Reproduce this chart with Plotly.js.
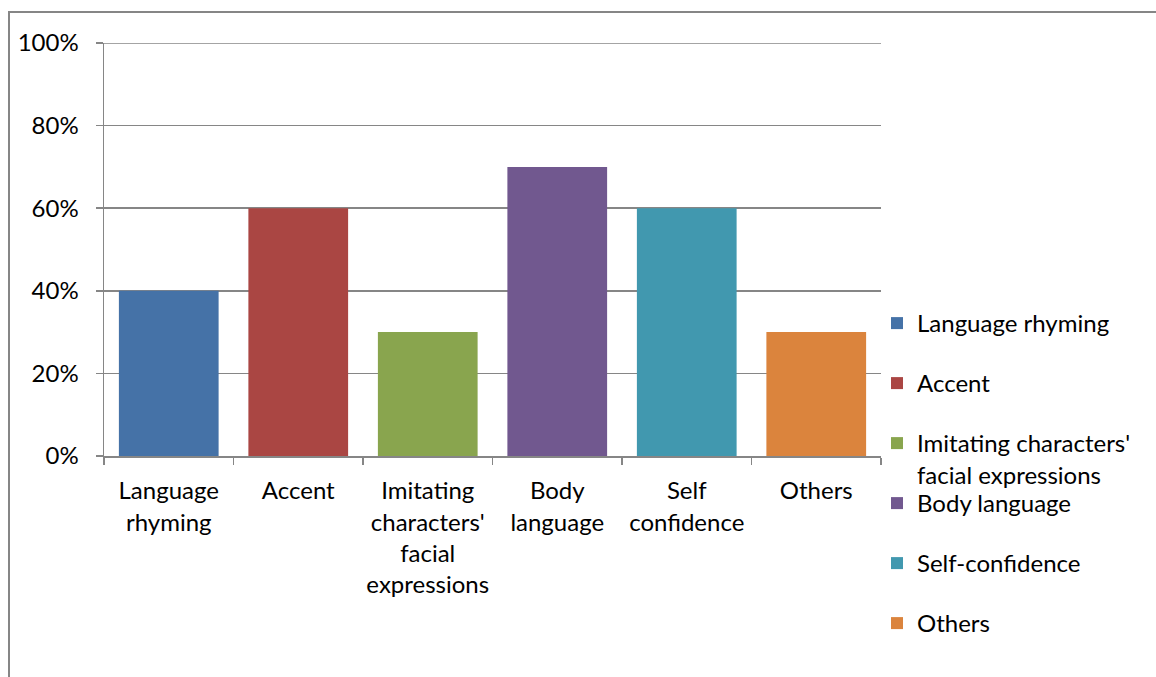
<!DOCTYPE html>
<html>
<head>
<meta charset="utf-8">
<script src="https://cdn.plot.ly/plotly-3.0.1.min.js"></script>
<style>html,body{margin:0;padding:0;background:#fff;}#chart{width:1156px;height:677px;}</style>
</head>
<body>
<div id="chart"></div>
<script>
const categories = ["Language<br>rhyming", "Accent", "Imitating<br>characters'<br>facial<br>expressions", "Body<br>language", "Self<br>confidence", "Others"];
const legendNames = ["Language rhyming", "Accent", "Imitating characters'<br>facial expressions", "Body language", "Self-confidence", "Others"];
const values = [0.40, 0.60, 0.30, 0.70, 0.60, 0.30];
const colors = ["#4572A7", "#AA4643", "#89A54E", "#71588F", "#4198AF", "#DB843D"];

const FONT = "Lato, 'Open Sans', sans-serif";
const FS = 24;
const legendY = [323, 383, 443, 503, 563, 623]; // pixel centre of first line
const plotTop = 43, plotH = 413, plotL = 104, plotW = 777;

const traces = categories.map((c, i) => ({
  type: 'bar',
  x: [c],
  y: [values[i]],
  name: legendNames[i],
  marker: {color: colors[i], line: {width: 0}},
  width: 0.77,
  legend: i === 0 ? 'legend' : 'legend' + (i + 1),
  hoverinfo: 'x+y'
}));

const layout = {
  width: 1156, height: 677,
  margin: {l: plotL, r: 1156 - plotL - plotW, t: plotTop, b: 677 - plotTop - plotH, pad: 0},
  paper_bgcolor: '#ffffff', plot_bgcolor: '#ffffff',
  font: {family: FONT, size: FS, color: '#000000'},
  barmode: 'overlay',
  showlegend: true,
  xaxis: {
    type: 'category',
    categoryorder: 'array', categoryarray: categories,
    showline: true, linecolor: '#868686', linewidth: 1.5,
    ticks: 'outside', ticklen: 7, tickcolor: '#868686', tickwidth: 1.5,
    tickson: 'boundaries',
    tickangle: 0,
    showgrid: false,
    tickfont: {family: FONT, size: FS, color: '#000'},
    ticklabelstandoff: 13
  },
  yaxis: {
    range: [0, 1], dtick: 0.2, tickformat: '.0%',
    showline: true, linecolor: '#868686', linewidth: 1.5,
    ticks: 'outside', ticklen: 7, tickcolor: '#868686', tickwidth: 1.5,
    showgrid: true, gridcolor: '#868686', gridwidth: 1.5,
    zeroline: false,
    tickfont: {family: FONT, size: FS, color: '#000'},
    ticklabelstandoff: 12
  },
  shapes: [{
    type: 'rect', xref: 'paper', yref: 'paper',
    x0: (9 - plotL) / plotW, x1: 1.6,
    y0: -1, y1: (plotTop + plotH - 12) / plotH,
    line: {color: '#868686', width: 2}, fillcolor: 'rgba(0,0,0,0)', layer: 'below'
  }, {
    type: 'line', xref: 'paper', yref: 'y',
    x0: 0, x1: 1, y0: 1, y1: 1,
    line: {color: '#868686', width: 1.5}, layer: 'below'
  }]
};

legendY.forEach((py, i) => {
  const key = i === 0 ? 'legend' : 'legend' + (i + 1);
  layout[key] = {
    x: (877 - plotL) / plotW, xanchor: 'left',
    y: (plotTop + plotH - (py - 22)) / plotH, yanchor: 'top',
    bgcolor: 'rgba(0,0,0,0)', borderwidth: 0,
    font: {family: FONT, size: FS, color: '#000'},
    valign: 'top', itemclick: false, itemdoubleclick: false
  };
});

Plotly.newPlot('chart', traces, layout, {displayModeBar: false, staticPlot: true});
</script>
</body>
</html>
